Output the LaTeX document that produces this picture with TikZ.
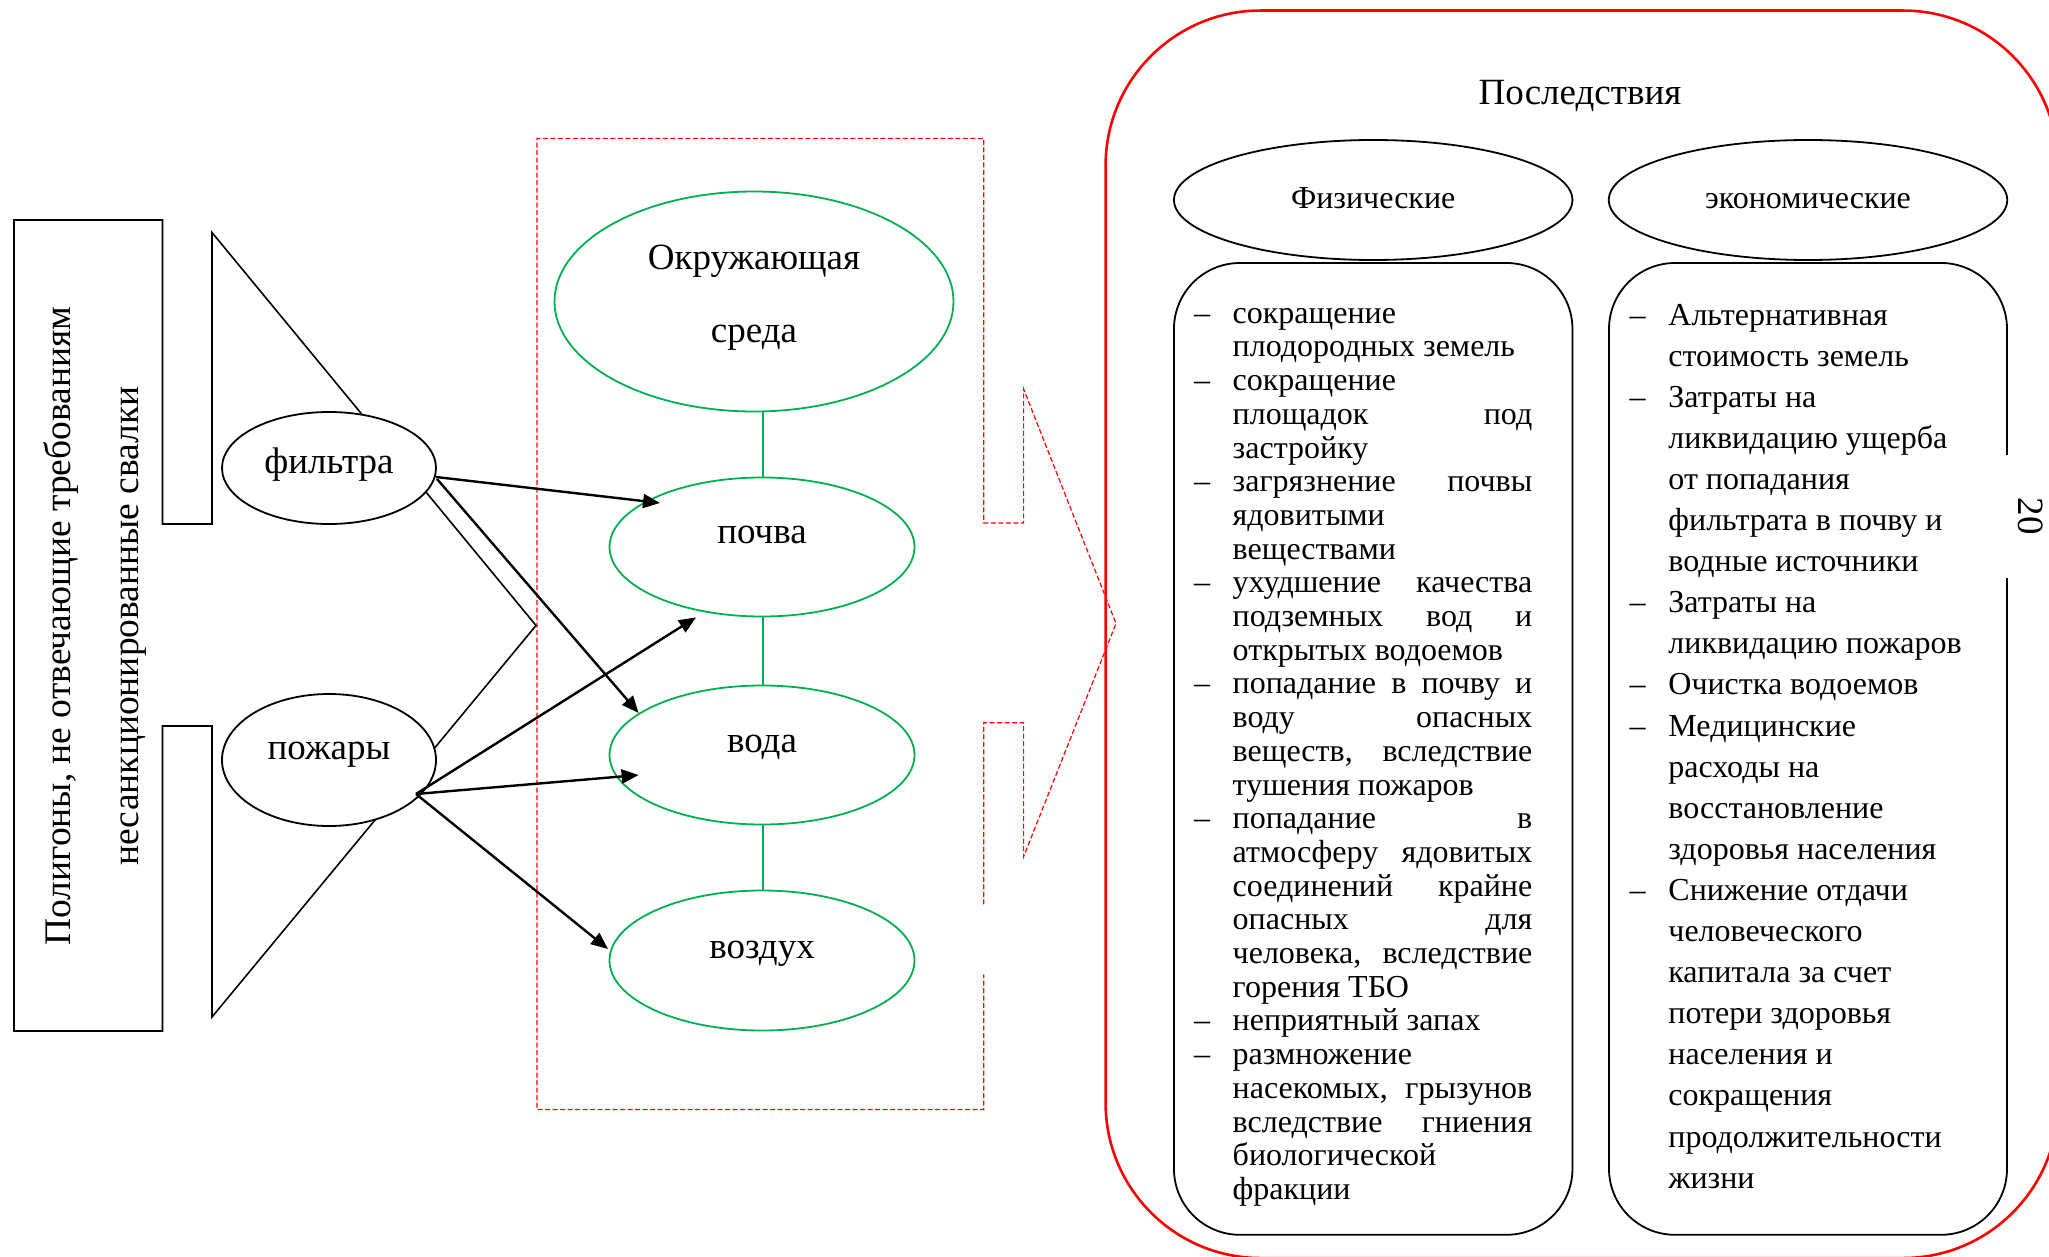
\documentclass[tikz,border=0pt]{standalone}
\usepackage{fontspec}
\setmainfont{Liberation Serif}
\usetikzlibrary{shapes.geometric,arrows.meta,calc}
\definecolor{grn}{RGB}{0,176,80}
\newcommand\lnD[1]{\makebox[38.7pt][l]{–}#1}
\newcommand\lnDJ[1]{\makebox[38.7pt][l]{–}\makebox[299.6pt][s]{#1}}
\newcommand\lnJ[1]{\hspace*{38.7pt}\makebox[299.6pt][s]{#1}}
\newcommand\lnL[1]{\hspace*{38.7pt}#1}
\begin{document}
\begin{tikzpicture}[x=1pt,y=-1pt,
  every node/.style={inner sep=0pt,outer sep=0pt},
  big/.style={font=\fontsize{37}{44}\selectfont},
  body/.style={font=\fontsize{32}{38}\selectfont},
  blk/.style={ellipse,draw=black,line width=1.8pt,fill=white,big},
  gel/.style={ellipse,draw=grn,line width=1.8pt,fill=white,big},
  cat/.style={ellipse,draw=black,line width=1.8pt,fill=white,body,
    minimum width=398.5pt,minimum height=120pt,text height=25pt,text depth=7pt},
  listbox/.style={draw=black,line width=1.8pt,rounded corners=66pt,
    minimum width=398.5pt,minimum height=971.8pt},
  arr/.style={line width=2.4pt,-{Triangle[length=17pt,width=14pt]}},
  reddash/.style={draw=red,line width=1.2pt,dash pattern=on 5pt off 2.5pt},
  glink/.style={draw=grn,line width=1.8pt}]
\useasboundingbox (0,0) rectangle (2049,1257);

% consequences frame
\node[draw=red,line width=2.6pt,rounded corners=155pt,
  minimum width=952.4pt,minimum height=1247.5pt] (cons) at (1581.8,634.3) {};
\node[big,anchor=base] (constitle) at (1580,104.6) {Последствия};

% dashed red callout around the environment
\draw[reddash] (983.8,904.4) -- (983.8,722.7) -- (1023.6,722.7) -- (1023.6,856.6)
  -- (1116,623.5) -- (1023.6,389) -- (1023.6,523) -- (983.8,523) -- (983.8,138.5)
  -- (537,138.5) -- (537,1109.5) -- (983.8,1109.5) -- (983.8,974.6);

% black callout (source)
\draw[line width=1.6pt] (14,220) -- (162.5,220) -- (162.5,524) -- (212,524)
  -- (212,232.5) -- (536,625.5) -- (212,1017) -- (212,726) -- (162.5,726)
  -- (162.5,1031) -- (14,1031) -- cycle;
\node[rotate=90,align=center,font=\fontsize{37.5}{68}\selectfont] (src) at (94.7,626)
  {Полигоны, не отвечающие требованиям\\несанкционированные свалки};

% sources
\node[blk,minimum width=214pt,minimum height=112pt,text height=18pt,text depth=7.4pt]
  (filtr) at (329,468) {фильтра};
\node[blk,minimum width=214pt,minimum height=132pt,text height=10pt,text depth=10.4pt]
  (pozh) at (329,760) {пожары};

% environment
\node[gel,minimum width=399pt,minimum height=220pt,align=center,
  font=\fontsize{37}{73}\selectfont] (okr) at (754,301.5)
  {Окружающая\\среда\rule[-15pt]{0pt}{0pt}};
\node[gel,minimum width=305pt,minimum height=139pt,text height=10pt,text depth=16.8pt]
  (pochva) at (762,547) {почва};
\node[gel,minimum width=305pt,minimum height=139pt,text height=10pt,text depth=14.2pt]
  (voda) at (762,755) {вода};
\node[gel,minimum width=305pt,minimum height=140pt,text height=10pt,text depth=14.2pt]
  (vozd) at (762,960.5) {воздух};
\draw[glink] ($(pochva.north)+(1,0)$) -- ($(pochva.north |- okr.south)+(1,0)$);
\draw[glink] ($(voda.north)+(1,0)$) -- ($(pochva.south)+(1,0)$);
\draw[glink] ($(vozd.north)+(1,0)$) -- ($(voda.south)+(1,0)$);

% arrows
\draw[arr] ($(filtr.center)+(107,9)$) -- ($(pochva.center)+(-102,-44)$);
\draw[arr] ($(filtr.center)+(108,11)$) -- ($(voda.center)+(-123.4,-42)$);
\draw[arr] ($(pozh.center)+(87,34)$) -- ($(pochva.center)+(-66,70.4)$);
\draw[arr] ($(pozh.center)+(87,34)$) -- ($(voda.center)+(-123.4,20)$);
\draw[arr] ($(pozh.center)+(87,34)$) -- ($(vozd.center)+(-154,-11.5)$);

% categories
\node[cat] (phys) at (1373.2,200) {Физические};
\node[cat] (econ) at (1808,200) {экономические};
\node[listbox] (physbox) at (1373.2,748.9) {};
\node[listbox,minimum width=398pt] (econbox) at (1808,748.9) {};

\foreach \t [count=\i from 0] in {
  {\lnD{сокращение}},
  {\lnL{плодородных земель}},
  {\lnD{сокращение}},
  {\lnJ{площадок под}},
  {\lnL{застройку}},
  {\lnDJ{загрязнение почвы}},
  {\lnL{ядовитыми}},
  {\lnL{веществами}},
  {\lnDJ{ухудшение качества}},
  {\lnJ{подземных вод и}},
  {\lnL{открытых водоемов}},
  {\lnDJ{попадание в почву и}},
  {\lnJ{воду опасных}},
  {\lnJ{веществ, вследствие}},
  {\lnL{тушения пожаров}},
  {\lnDJ{попадание в}},
  {\lnJ{атмосферу ядовитых}},
  {\lnJ{соединений крайне}},
  {\lnJ{опасных для}},
  {\lnJ{человека, вследствие}},
  {\lnL{горения ТБО}},
  {\lnD{неприятный запах}},
  {\lnD{размножение}},
  {\lnJ{насекомых, грызунов}},
  {\lnJ{вследствие гниения}},
  {\lnL{биологической}},
  {\lnL{фракции}}}
  \node[body,anchor=base west] (fl\i) at (1194,{323.2+33.7*\i}) {\t};

\foreach \t [count=\i from 0] in {
  {\lnD{Альтернативная}},
  {\lnL{стоимость земель}},
  {\lnD{Затраты на}},
  {\lnL{ликвидацию ущерба}},
  {\lnL{от попадания}},
  {\lnL{фильтрата в почву и}},
  {\lnL{водные источники}},
  {\lnD{Затраты на}},
  {\lnL{ликвидацию пожаров}},
  {\lnD{Очистка водоемов}},
  {\lnD{Медицинские}},
  {\lnL{расходы на}},
  {\lnL{восстановление}},
  {\lnL{здоровья населения}},
  {\lnD{Снижение отдачи}},
  {\lnL{человеческого}},
  {\lnL{капитала за счет}},
  {\lnL{потери здоровья}},
  {\lnL{населения и}},
  {\lnL{сокращения}},
  {\lnL{продолжительности}},
  {\lnL{жизни}}}
  \node[body,anchor=base west] (el\i) at (1629.7,{325+41.1*\i}) {\t};

% page number
\node[fill=white,rotate=-90,minimum width=123pt,minimum height=52pt,big]
  (pg) at (2030.8,516) {20};
\end{tikzpicture}
\end{document}
